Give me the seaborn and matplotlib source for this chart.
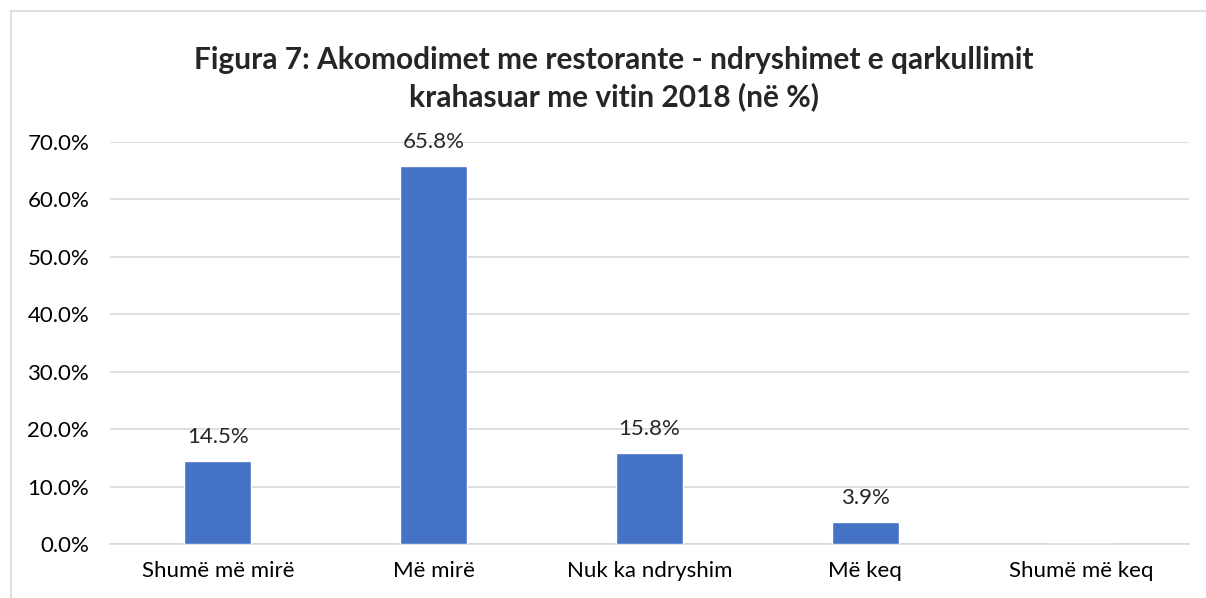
import matplotlib
matplotlib.use('Agg')
import matplotlib.pyplot as plt
import matplotlib.patches as mpatches
from matplotlib.ticker import FuncFormatter
import seaborn as sns
import pandas as pd

# chart data
categories = ['Shumë më mirë', 'Më mirë', 'Nuk ka ndryshim', 'Më keq', 'Shumë më keq']
shares = [14.5, 65.8, 15.8, 3.9, 0.0]
title = 'Figura 7: Akomodimet me restorante - ndryshimet e qarkullimit\nkrahasuar me vitin 2018 (në %)'

df = pd.DataFrame({'category': categories, 'share': shares})

sns.set_style('white')
plt.rcParams['font.family'] = ['Lato', 'DejaVu Sans']

fig = plt.figure(figsize=(12.06, 5.98), dpi=100)
ax = fig.add_axes([0.0912, 0.0903, 0.8948, 0.6722])

sns.barplot(data=df, x='category', y='share', order=categories, color='#4472C4',
            width=0.31, saturation=1, ax=ax, zorder=3)

ax.set_ylim(0, 70)
ax.set_yticks(range(0, 71, 10))
ax.yaxis.set_major_formatter(FuncFormatter(lambda v, p: f'{v:.1f}%'))
ax.grid(axis='y', color='#D9D9D9', linewidth=1.2, zorder=0)
ax.set_axisbelow(True)
for s in ['left', 'right', 'top']:
    ax.spines[s].set_visible(False)
ax.spines['bottom'].set_color('#D9D9D9')
ax.spines['bottom'].set_linewidth(1.2)
ax.tick_params(axis='both', length=0, labelsize=16, colors='#000000')
ax.tick_params(axis='y', pad=15)
ax.tick_params(axis='x', pad=12)
ax.set_xlabel('')
ax.set_ylabel('')

# value labels (skip the empty last category)
for i, v in enumerate(shares):
    if v > 0:
        ax.annotate(f'{v:.1f}%', (i, v), xytext=(0, 10), textcoords='offset points',
                    ha='center', va='bottom', fontsize=16)

fig.text(0.509, 0.868, title, ha='center', va='center', fontsize=21.5,
         fontweight='bold', linespacing=1.35)

# outer chart frame
fig.patches.append(mpatches.Rectangle((11 / 1206, -0.1), 1.2, 1 - 11 / 598 + 0.1,
                                      transform=fig.transFigure, fill=False,
                                      edgecolor='#D9D9D9', linewidth=1.2))

fig.savefig('out.png', dpi=100)
